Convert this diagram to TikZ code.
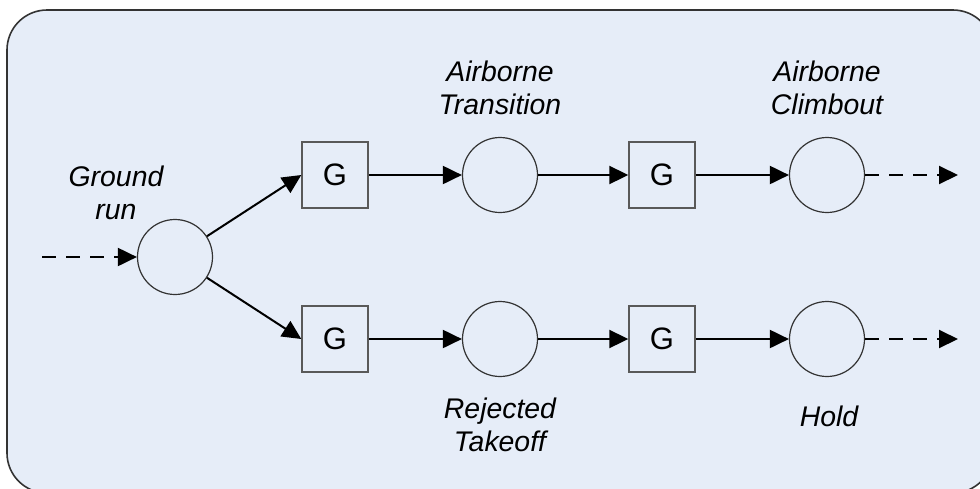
\documentclass[tikz,border=0pt]{standalone}
\usepackage{fontspec}
\setmainfont{Liberation Sans}
\usetikzlibrary{arrows.meta}
\definecolor{bgblue}{RGB}{230,237,248}

\begin{document}
\begin{tikzpicture}[x=0.5pt,y=-0.5pt,
    state/.style={draw=black!80, line width=0.6pt, circle, minimum size=37.5pt, inner sep=0pt},
    gate/.style={draw=black!65, fill=bgblue, line width=0.7pt, minimum size=33pt, inner sep=0pt,
      font=\fontsize{15.5}{16.5}\selectfont},
    lbl/.style={align=center, font=\fontsize{14.2}{16.5}\selectfont\itshape},
    flow/.style={-{Triangle[length=9.5pt,width=9pt]}, line width=1pt},
    open/.style={flow, dash pattern=on 7pt off 5pt}
  ]
  \def \rowTop {175}
  \def \rowBot {339}

  \useasboundingbox (0,0) rectangle (980,488);
  \draw[draw=black!80, fill=bgblue, line width=0.8pt, rounded corners=20pt] (7,10) rectangle (993,493);

  % ground run
  \node[state] (ground) at (175,257) {};
  \node[lbl] (lGround) at (116,193) {Ground\\run};
  \coordinate (entry) at (42,257);

  % upper and lower branch
  \node[gate]  (gTop1)      at (335,\rowTop) {G};
  \node[state] (transition) at (500,\rowTop) {};
  \node[gate]  (gTop2)      at (662,\rowTop) {G};
  \node[state] (climbout)   at (827,\rowTop) {};
  \coordinate (exitTop) at (958,\rowTop);

  \node[gate]  (gBot1)    at (335,\rowBot) {G};
  \node[state] (rejected) at (500,\rowBot) {};
  \node[gate]  (gBot2)    at (662,\rowBot) {G};
  \node[state] (hold)     at (827,\rowBot) {};
  \coordinate (exitBot) at (958,\rowBot);

  \node[lbl] (lTransition) at (500,88)  {Airborne\\Transition};
  \node[lbl] (lClimbout)   at (827,88)  {Airborne\\Climbout};
  \node[lbl] (lRejected)   at (500,425) {Rejected\\Takeoff};
  \node[lbl] (lHold)       at (829,416) {Hold};

  \draw[open] (entry) -- (ground);
  \draw[flow] (ground) -- (gTop1.west);
  \draw[flow] (ground) -- (gBot1.west);

  \foreach \r/\a/\b in {Top/transition/climbout, Bot/rejected/hold}
  {
    \draw[flow] (g\r1) -- (\a);
    \draw[flow] (\a) -- (g\r2);
    \draw[flow] (g\r2) -- (\b);
    \draw[open] (\b) -- (exit\r);
  }
\end{tikzpicture}
\end{document}
